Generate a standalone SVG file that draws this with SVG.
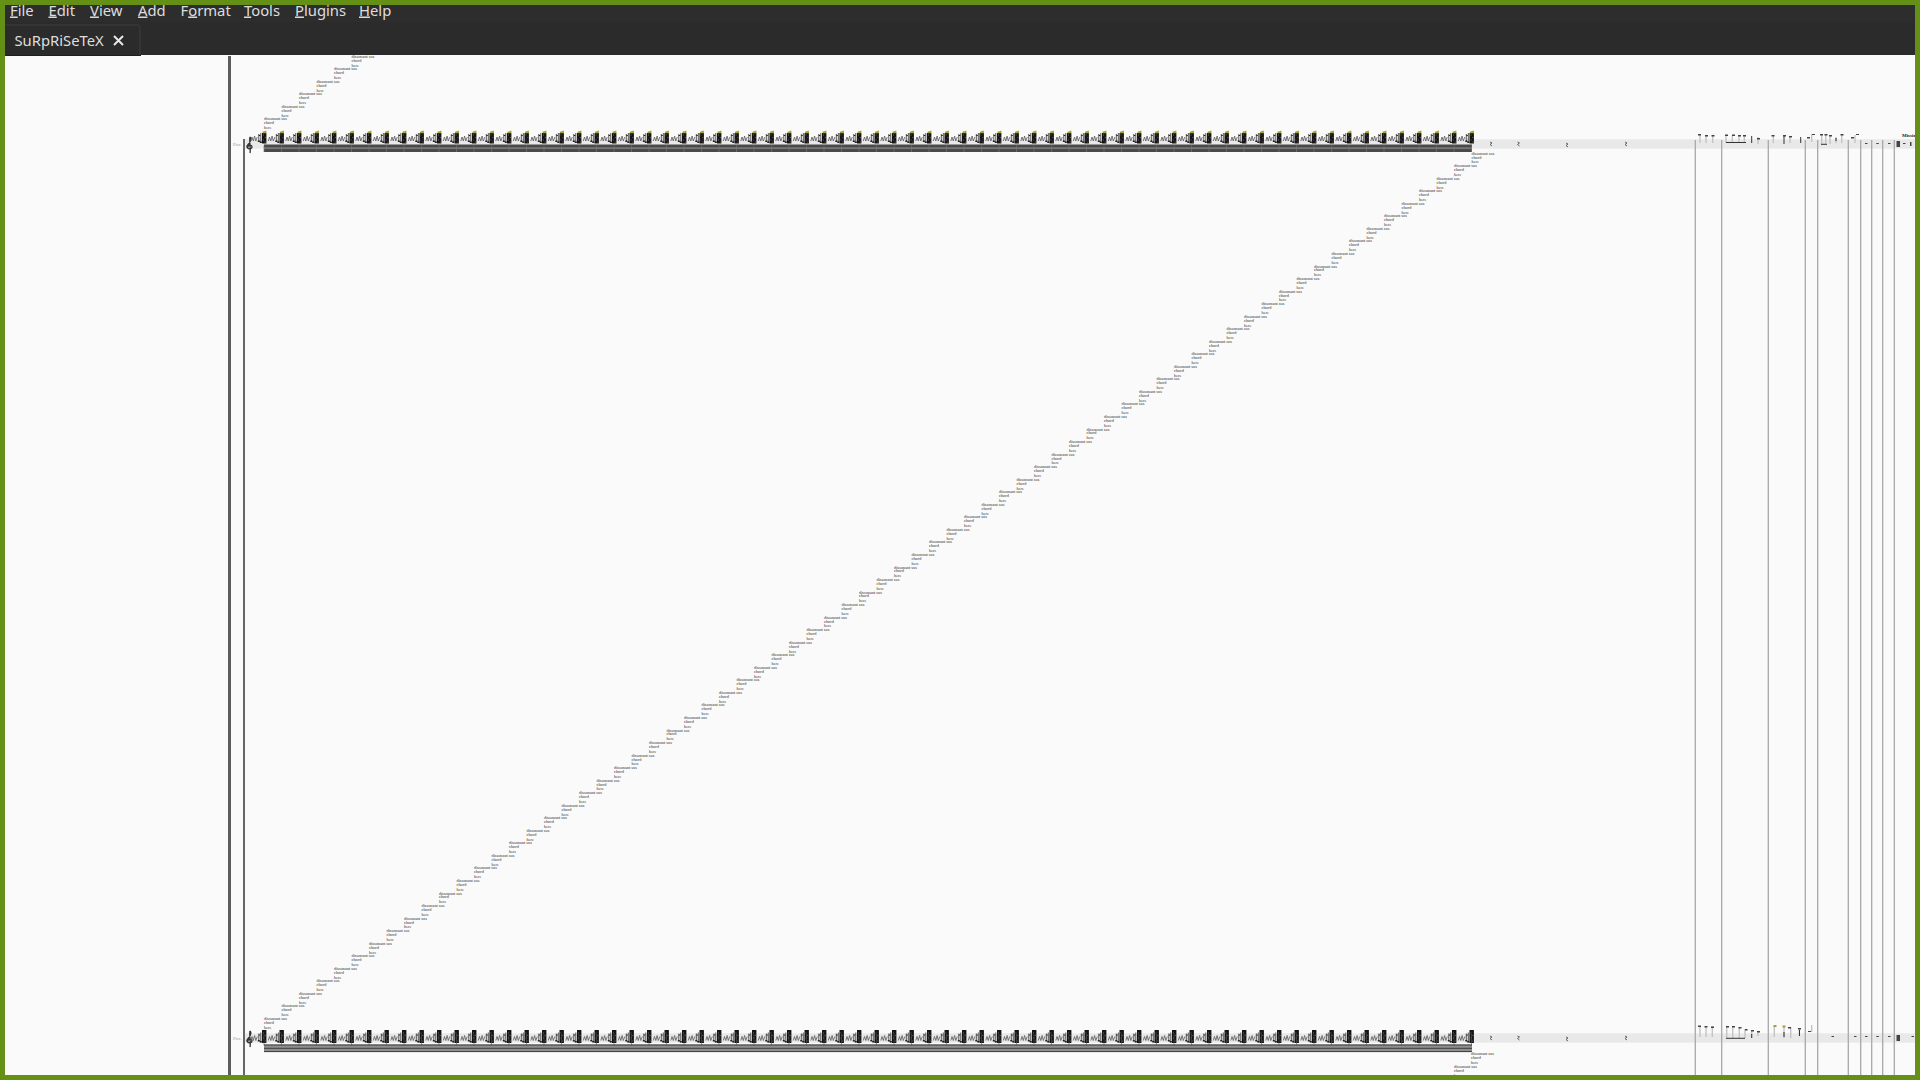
<svg xmlns="http://www.w3.org/2000/svg" width="1920" height="1080" viewBox="0 0 1920 1080">
<style>
.menu{font-family:"Noto Sans","Open Sans",sans-serif;font-size:14.8px;fill:#dedede}
.u{text-decoration:underline}
.lb{font-family:"Liberation Serif",serif;font-size:4.3px;fill:#333}
.inst{font-family:"Liberation Serif",serif;font-size:4.5px;fill:#999}
.st{stroke:#d8d8d8;stroke-width:.7}
.bar{stroke:#a8a8a8;stroke-width:1.3}
.sq{fill:none;stroke:#666;stroke-width:.9}
.stem{stroke:#c4c4c4;stroke-width:1.4}
.dk{stroke:#333;stroke-width:1}
.hd{fill:#444}
.ol{fill:#a8a030}
</style>
<defs>
<g id="lbl"><text class="lb" y="1.2">dissonant sus</text><text class="lb" y="5.2">chord</text><text class="lb" y="10">here</text></g>
<g id="sq"><polyline class="sq" points="-11.5,1 -10.3,-3 -9,1 -7.7,-4 -6.5,1 -5,-3"/><path d="M-3.5,-6V1.500M-1.500,-7V3" stroke="#444" stroke-width=".9"/><path d="M-4.500,.5h2v1.500h-2zM-2.500,1.500h2v1.500h-2zM-3.500,-5h1.500v1h-1.500z" fill="#222"/></g>
<g id="c1"><use href="#sq"/><rect x="-.3" y="-7" width="4.400" height="10.500" fill="#151515"/><path d="M.7,-5.500h1v1h-1zM2.500,-3h1v1h-1zM.7,-.5h1v1h-1zM2.500,1.500h1v1h-1z" fill="#666"/><path d="M.2,-8.200L4.100,-9.500V-6.800H.2Z" class="ol"/><path d="M1.700,5.500V12" stroke="#777" stroke-width=".7"/></g>
<g id="c2"><use href="#sq"/><rect x="-.3" y="-9.500" width="4.400" height="13" fill="#151515"/><path d="M.7,-7h1v1h-1zM2.500,-4.500h1v1h-1zM.7,-2h1v1h-1zM2.500,1h1v1h-1z" fill="#666"/><path d="M1.700,-5.500V6" stroke="#555" stroke-width=".6"/></g>
<g id="r1"><use href="#c1"/><use href="#c1" x="17.500"/><use href="#c1" x="35"/><use href="#c1" x="52.500"/><use href="#c1" x="70"/><use href="#c1" x="87.500"/><use href="#c1" x="105"/><use href="#c1" x="122.500"/><use href="#c1" x="140"/><use href="#c1" x="157.500"/></g>
<g id="r2"><use href="#c2"/><use href="#c2" x="17.500"/><use href="#c2" x="35"/><use href="#c2" x="52.500"/><use href="#c2" x="70"/><use href="#c2" x="87.500"/><use href="#c2" x="105"/><use href="#c2" x="122.500"/><use href="#c2" x="140"/><use href="#c2" x="157.500"/></g>
<g id="staff"><rect x="245" y="0" width="1670" height="8" fill="#f1f1f1"/><path class="st" d="M245,0H1915M245,2H1915M245,4H1915M245,6H1915M245,8H1915"/></g>
<path id="clef" d="M4,0C7,3 3,6 1,9C0,12 6,13 6,10C6,7 1,8 2,11M4,0C3,4 5,12 4,16" fill="none" stroke="#333" stroke-width="1.300"/>
<g id="rest"><path d="M0,2L2,3L0,4.500L2,6" fill="none" stroke="#555" stroke-width=".9"/></g>
</defs>
<rect width="1920" height="1080" fill="#fafafa"/>

<g id="rails">
<rect x="228" y="56" width="3" height="1020" fill="#5c5c5c"/>
<rect x="243" y="139" width="2" height="937" fill="#666"/>
</g>

<g id="staff-top">
<use href="#staff" y="140"/>
<text class="inst" x="233" y="146">Picc.</text>
<use href="#clef" x="246" y="137"/>
<rect x="264" y="144.500" width="1208" height="7.500" fill="#4a4a4a"/>
<rect x="264" y="147.500" width="1208" height="1.200" fill="#8c8c8c"/>
<use href="#r1" x="262.300" y="140"/><use href="#r1" x="437.300" y="140"/><use href="#r1" x="612.300" y="140"/><use href="#r1" x="787.300" y="140"/><use href="#r1" x="962.300" y="140"/><use href="#r1" x="1137.300" y="140"/><use href="#r1" x="1312.300" y="140"/>
<use href="#rest" x="1490" y="140"/><use href="#rest" x="1517.500" y="140"/><use href="#rest" x="1566" y="141"/><use href="#rest" x="1625" y="140"/>
</g>
<g id="staff-bottom">
<use href="#staff" y="1034"/>
<text class="inst" x="233" y="1040">Picc.</text>
<use href="#clef" x="246" y="1031"/>
<rect x="264" y="1044.500" width="1208" height="7.500" fill="#8f8f8f"/>
<path d="M264,1045H1472M264,1048.300H1472M264,1051.600H1472" stroke="#3c3c3c" stroke-width="1"/>
<use href="#r2" x="262.300" y="1039.500"/><use href="#r2" x="437.300" y="1039.500"/><use href="#r2" x="612.300" y="1039.500"/><use href="#r2" x="787.300" y="1039.500"/><use href="#r2" x="962.300" y="1039.500"/><use href="#r2" x="1137.300" y="1039.500"/><use href="#r2" x="1312.300" y="1039.500"/>
<use href="#rest" x="1490" y="1034"/><use href="#rest" x="1517.500" y="1034"/><use href="#rest" x="1566" y="1035"/><use href="#rest" x="1625" y="1034"/>
</g>

<g id="barlines">
<path class="bar" d="M1695.300,140V1076M1721.700,140V1076M1768.300,140V1076M1805.300,140V1076M1817.700,140V1076M1848.300,140V1076M1860.700,140V1076M1871.700,140V1076M1882.700,140V1076M1894.300,140V1076"/>
</g>

<g id="notes-top">
<path class="stem" d="M1700,135V143M1706,136V143M1712.700,136V143M1726,135V143M1732.300,136V143M1739,136V143M1744.300,136V143M1758,137V144M1773.300,135V143M1790,136V143M1811.700,134V142M1821.700,135V144M1825.700,135V144M1830,136V144M1836,137V143M1841.700,135V143M1855,135V143"/>
<path class="hd" d="M1698,134h3v1.500h-3zM1705,135h3v1.500h-3zM1711.500,135h3v1.500h-3zM1725,134.500h3v1.500h-3zM1732,134.500h3v1.500h-3zM1738,135h3v1.500h-3zM1743,135h3v1.500h-3zM1771.500,135h3v1.500h-3zM1783,135h3v1.500h-3zM1789,136h3v1.500h-3zM1820,134h3v1.500h-3zM1824.500,134h3v1.500h-3zM1829,135h3v1.500h-3zM1840.500,134h3v1.500h-3zM1807,137h3v1.500h-3zM1851,137h3v1.500h-3zM1757,138h3v1.500h-3z"/>
<path class="dk" d="M1751.700,136V143M1784,136V144M1800.700,137V143M1836,138v3M1726,142.500H1746M1821,144.300H1827"/>
<path class="hd" d="M1812,134h3v1h-3zM1856,134h3v1h-3z"/>
<path class="hd" d="M1865,143h2.500v1h-2.500zM1876.300,143h2.500v1h-2.500zM1888,143h2.500v1h-2.500zM1903,143h2.500v1h-2.500zM1896.500,141h3.500v6h-3.500zM1910,142h1.500v4h-1.500z"/>
<text x="1902" y="137" font-family="Liberation Serif,serif" font-size="5" font-weight="bold" fill="#222">Missing</text>
</g>
<g id="notes-bottom">
<path class="stem" d="M1700,1026V1037M1706,1026V1037M1712.300,1026V1037M1726.700,1027V1038M1732.700,1027V1038M1739.300,1027V1038M1745,1029V1038M1751.700,1030V1038M1758,1031V1036M1774.300,1026V1037M1784,1026V1038M1790.700,1027V1038M1799.300,1028V1036M1811.700,1025V1032"/>
<path class="hd" d="M1698,1025.500h3v1.500h-3zM1704.500,1026h3v1.500h-3zM1711,1026.500h3v1.500h-3zM1726,1026h3v1.500h-3zM1732,1026h3v1.500h-3zM1738.500,1027h3v1.500h-3zM1745,1029h2.500v1.500h-2.500zM1751,1030h3v1.500h-3zM1757,1031h3v1.500h-3zM1788,1027h3v1.500h-3zM1798,1028h3v1.500h-3zM1808,1031h3v1h-3z"/>
<path class="ol" d="M1773.500,1025h3v2h-3zM1782.500,1025.500h3v2h-3z"/>
<path class="dk" d="M1726,1038.300H1745M1784,1032V1037M1799.500,1030V1036M1751.700,1034V1038"/>
<path class="hd" d="M1831.500,1036h2.500v1h-2.500zM1854,1036h2.500v1h-2.500zM1865,1036h2.500v1h-2.500zM1876.300,1036h2.500v1h-2.500zM1888,1036h2.500v1h-2.500zM1896.500,1035h3.500v6h-3.500zM1911.500,1036h2.500v1h-2.500z"/>
</g>

<g id="labels">
<use href="#lbl" x="264" y="119"/><use href="#lbl" x="281.500" y="106.700"/><use href="#lbl" x="299" y="94"/><use href="#lbl" x="316.500" y="81.700"/><use href="#lbl" x="334" y="69"/><use href="#lbl" x="351.500" y="56.700"/>
<use href="#lbl" x="264" y="1018.700"/><use href="#lbl" x="281.500" y="1006.200"/><use href="#lbl" x="299" y="993.600"/><use href="#lbl" x="316.500" y="981.100"/><use href="#lbl" x="334" y="968.500"/><use href="#lbl" x="351.500" y="956"/><use href="#lbl" x="369" y="943.500"/><use href="#lbl" x="386.500" y="930.900"/><use href="#lbl" x="404" y="918.400"/><use href="#lbl" x="421.500" y="905.800"/>
<use href="#lbl" x="439" y="893.300"/><use href="#lbl" x="456.500" y="880.800"/><use href="#lbl" x="474" y="868.200"/><use href="#lbl" x="491.500" y="855.700"/><use href="#lbl" x="509" y="843.100"/><use href="#lbl" x="526.500" y="830.600"/><use href="#lbl" x="544" y="818.100"/><use href="#lbl" x="561.500" y="805.500"/><use href="#lbl" x="579" y="793"/><use href="#lbl" x="596.500" y="780.400"/>
<use href="#lbl" x="614" y="767.900"/><use href="#lbl" x="631.500" y="755.400"/><use href="#lbl" x="649" y="742.800"/><use href="#lbl" x="666.500" y="730.300"/><use href="#lbl" x="684" y="717.700"/><use href="#lbl" x="701.500" y="705.200"/><use href="#lbl" x="719" y="692.700"/><use href="#lbl" x="736.500" y="680.100"/><use href="#lbl" x="754" y="667.600"/><use href="#lbl" x="771.500" y="655"/>
<use href="#lbl" x="789" y="642.500"/><use href="#lbl" x="806.500" y="630"/><use href="#lbl" x="824" y="617.400"/><use href="#lbl" x="841.500" y="604.900"/><use href="#lbl" x="859" y="592.300"/><use href="#lbl" x="876.500" y="579.800"/><use href="#lbl" x="894" y="567.300"/><use href="#lbl" x="911.500" y="554.700"/><use href="#lbl" x="929" y="542.200"/><use href="#lbl" x="946.500" y="529.600"/>
<use href="#lbl" x="964" y="517.100"/><use href="#lbl" x="981.500" y="504.600"/><use href="#lbl" x="999" y="492"/><use href="#lbl" x="1016.500" y="479.500"/><use href="#lbl" x="1034" y="466.900"/><use href="#lbl" x="1051.500" y="454.400"/><use href="#lbl" x="1069" y="441.900"/><use href="#lbl" x="1086.500" y="429.300"/><use href="#lbl" x="1104" y="416.800"/><use href="#lbl" x="1121.500" y="404.200"/>
<use href="#lbl" x="1139" y="391.700"/><use href="#lbl" x="1156.500" y="379.200"/><use href="#lbl" x="1174" y="366.600"/><use href="#lbl" x="1191.500" y="354.100"/><use href="#lbl" x="1209" y="341.500"/><use href="#lbl" x="1226.500" y="329"/><use href="#lbl" x="1244" y="316.500"/><use href="#lbl" x="1261.500" y="303.900"/><use href="#lbl" x="1279" y="291.400"/><use href="#lbl" x="1296.500" y="278.800"/>
<use href="#lbl" x="1314" y="266.300"/><use href="#lbl" x="1331.500" y="253.800"/><use href="#lbl" x="1349" y="241.200"/><use href="#lbl" x="1366.500" y="228.700"/><use href="#lbl" x="1384" y="216.100"/><use href="#lbl" x="1401.500" y="203.600"/><use href="#lbl" x="1419" y="191.100"/><use href="#lbl" x="1436.500" y="178.500"/><use href="#lbl" x="1454" y="166"/><use href="#lbl" x="1471.500" y="153.400"/>
<use href="#lbl" x="1471" y="1053.700"/><use href="#lbl" x="1454" y="1066.700"/>
</g>

<g id="chrome">
<rect y="0" width="1920" height="22" fill="#2d2d2d"/>
<rect y="22" width="1920" height="33" fill="#2b2b2b"/>
<path d="M5,25H138Q140,25 140,27V55" fill="none" stroke="#3e3e3e"/>
<path d="M5,55.500H141" stroke="#1e1e1e"/>
<g class="menu">
<text x="10" y="15.500"><tspan class="u">F</tspan>ile</text>
<text x="48.500" y="15.500"><tspan class="u">E</tspan>dit</text>
<text x="90" y="15.500"><tspan class="u">V</tspan>iew</text>
<text x="138" y="15.500"><tspan class="u">A</tspan>dd</text>
<text x="180.500" y="15.500">F<tspan class="u">o</tspan>rmat</text>
<text x="244" y="15.500"><tspan class="u">T</tspan>ools</text>
<text x="295" y="15.500"><tspan class="u">P</tspan>lugins</text>
<text x="359" y="15.500"><tspan class="u">H</tspan>elp</text>
<text x="14.500" y="46">SuRpRiSeTeX</text>
</g>
<path d="M114,36L123,45M123,36L114,45" stroke="#e8e8e8" stroke-width="2"/>
</g>

<g id="border" fill="#649015">
<rect width="1920" height="5"/>
<rect y="1075" width="1920" height="5"/>
<rect width="5" height="1080"/>
<rect x="1915" width="5" height="1080"/>
</g>
</svg>
